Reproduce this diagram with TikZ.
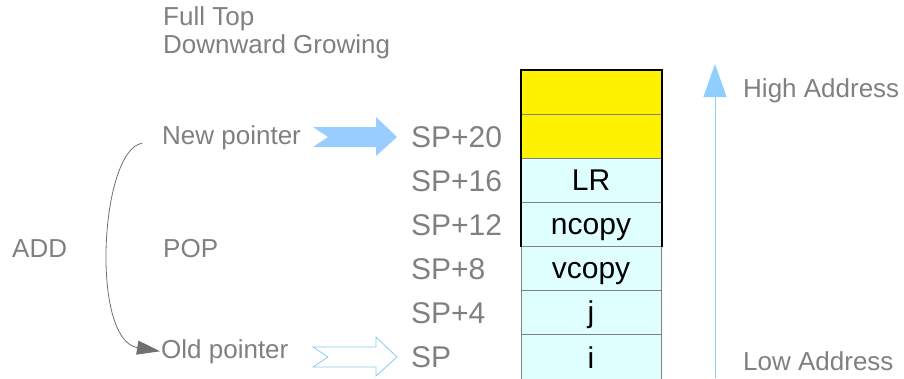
\documentclass[tikz,border=0pt]{standalone}
\usepackage{fontspec}
\setmainfont{Liberation Sans}
\usetikzlibrary{arrows.meta}
\definecolor{txtgray}{HTML}{808080}
\definecolor{curvegray}{HTML}{707070}
\definecolor{cellcyan}{HTML}{DFFFFF}
\definecolor{arrowblue}{HTML}{99CCFF}
\definecolor{outlineblue}{HTML}{88CCEE}
\definecolor{hablue}{HTML}{8ECFFF}
\begin{document}
\begin{tikzpicture}[x=1pt,y=-1pt,
  lbl/.style={anchor=base west, text=txtgray, font=\fontsize{26}{30}\selectfont, inner sep=0pt},
  splbl/.style={lbl, font=\fontsize{30}{34}\selectfont},
  cell/.style={draw=txtgray, line width=1pt, minimum width=140pt, minimum height=44pt,
    inner sep=0pt, text height=21pt, text depth=0pt, font=\fontsize{30}{34}\selectfont, fill=cellcyan},
  blockarrow/.style={line width=0.8pt, line join=miter}
]
\useasboundingbox (0,0) rectangle (904,378);

% title
\node[lbl] (t1) at (163,25) {Full Top};
\node[lbl] (t2) at (163,53) {Downward Growing};

% stack cells
\node[cell, fill=yellow] (c1) at (591,92) {};
\node[cell, fill=yellow] (c2) at (591,136) {};
\node[cell] (c3) at (591,180) {LR};
\node[cell] (c4) at (591,224) {ncopy};
\node[cell] (c5) at (591,268) {vcopy};
\node[cell] (c6) at (591,312) {j};
\node[cell, minimum height=48pt] (c7) at (591,358) {i};
\draw[line width=2pt, black] (c4.south west) -- (c1.north west) -- (c1.north east) -- (c4.south east);

% SP labels
\node[splbl] (sp20) at (411,147) {SP+20};
\node[splbl] (sp16) at (411,191) {SP+16};
\node[splbl] (sp12) at (411,235) {SP+12};
\node[splbl] (sp8) at (411,279) {SP+8};
\node[splbl] (sp4) at (411,323) {SP+4};
\node[splbl] (sp0) at (411,367) {SP};

% pointer labels
\node[lbl] (newp) at (162,144) {New pointer};
\node[lbl] (oldp) at (161,358) {Old pointer};
\node[lbl] (add) at (12,257) {ADD};
\node[lbl] (pop) at (163,257) {POP};

% block arrows
\fill[arrowblue] (313,127) -- (376,127) -- (376,117) -- (397,137) -- (376,156) -- (376,147) -- (313,147) -- (328,137) -- cycle;
\draw[blockarrow, outlineblue, fill=white] (313,347) -- (376,347) -- (376,337) -- (397,357) -- (376,376) -- (376,367) -- (313,367) -- (328,357) -- cycle;

% ADD curve
\draw[curvegray, line width=0.8pt, -{Triangle[length=23pt,width=14pt]}]
  ([xshift=-20pt,yshift=-6pt]newp.west) .. controls (100,150) and (90,340) .. ([xshift=-1pt]oldp.west);

% address arrow
\coordinate (lowend) at (715,378);
\coordinate (highend) at (715,64);
\draw[hablue, line width=1pt, -{Triangle[length=33pt,width=23pt]}] (lowend) -- (highend);
\node[lbl] (high) at (743,97) {High Address};
\node[lbl] (low) at (743,370) {Low Address};
\end{tikzpicture}
\end{document}
